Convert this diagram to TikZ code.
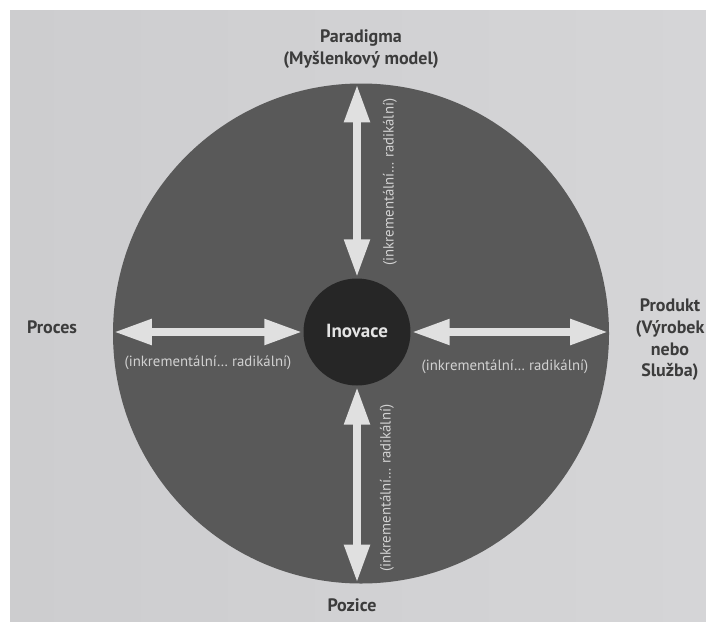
\documentclass[tikz,border=0pt]{standalone}
\usepackage{fontspec}
\setmainfont{PT Sans}
\usetikzlibrary{arrows.meta,shapes.geometric}
\definecolor{pagegreyL}{HTML}{CDCDCF}
\definecolor{pagegreyR}{HTML}{D5D5D7}
\definecolor{discgrey}{HTML}{595959}
\definecolor{coregrey}{HTML}{262626}
\definecolor{arrowgrey}{HTML}{E0E0E0}
\definecolor{inktext}{HTML}{3C3C3C}
\definecolor{softtext}{HTML}{D2D2D2}
\tikzset{
  outerlabel/.style={text=inktext, font=\fontsize{18}{21.7}\selectfont\bfseries, align=center, inner sep=0pt},
  rangelabel/.style={text=softtext, font=\fontsize{14.8}{17}\selectfont, inner sep=0pt},
  dblarrow/.style={draw=arrowgrey, line width=8pt,
    {Triangle[length=38pt,width=24pt]}-{Triangle[length=38pt,width=24pt]}, shorten <=1pt, shorten >=1pt}
}
\begin{document}
\begin{tikzpicture}[x=1pt,y=-1pt]
  % page and paper margins
  \fill[white] (0,0) rectangle (706,621);
  \shade[left color=pagegreyL, right color=pagegreyR] (10,10) rectangle (706,621);
  \useasboundingbox (0,0) rectangle (706,621);

  % outer disc and the core
  \node[ellipse, minimum width=496pt, minimum height=500pt, fill=discgrey, inner sep=0pt] (disc) at (361,333.5) {};
  \node[circle, minimum size=107pt, fill=coregrey, inner sep=0pt] (core) at (357,332) {};
  \node[text=softtext!60!white, font=\fontsize{19}{22}\selectfont\bfseries] (inov) at (357,331) {Inovace};

  % four double arrows
  \coordinate (topend) at (core.north |- disc.north);
  \coordinate (botend) at (core.south |- disc.south);
  \coordinate (leftend) at (disc.west |- core.west);
  \coordinate (rightend) at (disc.east |- core.east);
  \draw[dblarrow] (core.north) -- (topend);
  \draw[dblarrow] (core.south) -- (botend);
  \draw[dblarrow] (core.west) -- (leftend);
  \draw[dblarrow] (core.east) -- (rightend);

  % range labels
  \node[rangelabel, rotate=90] (rtop) at (390,182) {(inkrementální… radikální)};
  \node[rangelabel, rotate=90] (rbot) at (387,488) {(inkrementální… radikální)};
  \node[rangelabel] (rleft) at (208,363) {(inkrementální… radikální)};
  \node[rangelabel] (rright) at (505,367) {(inkrementální… radikální)};

  % dimension names
  \node[outerlabel] (paradigma) at (361,49) {Paradigma\\(Myšlenkový model)};
  \node[outerlabel] (proces) at (52,327) {Proces};
  \node[outerlabel] (produkt) at (670,340) {Produkt\\(Výrobek\\nebo\\Služba)};
  \node[outerlabel] (pozice) at (352,605) {Pozice};
\end{tikzpicture}
\end{document}
